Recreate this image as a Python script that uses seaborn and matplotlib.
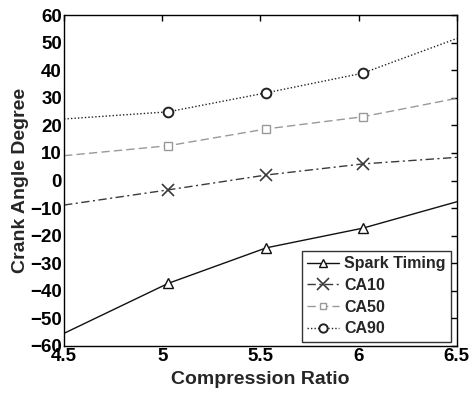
import matplotlib
matplotlib.use("Agg")
import matplotlib.pyplot as plt
import seaborn as sns
import pandas as pd
from matplotlib.lines import Line2D

# ---- data ----
curve_x = [4.5, 5.03, 5.53, 6.02, 6.5]
spark_curve = [-55.4, -37.3, -24.4, -17.3, -7.7]
ca10_curve = [-8.9, -3.4, 2.0, 6.0, 8.4]
ca50_curve = [9.0, 12.6, 18.7, 23.1, 29.8]
ca90_curve = [22.3, 24.9, 31.8, 38.9, 51.5]

marker_x = [5.03, 5.53, 6.02]
spark_pts = [-37.3, -24.4, -17.3]
ca10_pts = [-3.4, 2.0, 6.0]
ca50_pts = [12.6, 18.7, 23.1]
ca90_pts = [24.9, 31.8, 38.9]

series_names = ["Spark Timing", "CA10", "CA50", "CA90"]
x_ticks = [4.5, 5, 5.5, 6, 6.5]
x_tick_labels = ["4.5", "5", "5.5", "6", "6.5"]
y_ticks = list(range(-60, 61, 10))

sns.set_theme(style="white")
plt.rcParams["font.family"] = ["Liberation Sans", "DejaVu Sans"]
plt.rcParams["font.weight"] = "bold"

fig = plt.figure(figsize=(4.71, 3.93), dpi=100)
ax = fig.add_axes([0.136, 0.1196, 0.834, 0.8422])

styles = {
    "Spark Timing": dict(color="#111111", ls="-", marker="^", ms=7, mew=1.0),
    "CA10": dict(color="#3a3a3a", ls=(0, (6, 2.5, 1.5, 2.5)), marker="x", ms=9, mew=1.2),
    "CA50": dict(color="#999999", ls=(0, (6, 3)), marker="s", ms=6, mew=1.0),
    "CA90": dict(color="#222222", ls=(0, (1, 1.5)), marker="o", ms=7, mew=1.4),
}
curves = [spark_curve, ca10_curve, ca50_curve, ca90_curve]
points = [spark_pts, ca10_pts, ca50_pts, ca90_pts]

handles = []
for name, cy, py in zip(series_names, curves, points):
    st = styles[name]
    df_c = pd.DataFrame({"x": curve_x, "y": cy})
    sns.lineplot(data=df_c, x="x", y="y", ax=ax, color=st["color"],
                 linestyle=st["ls"], linewidth=1.0, legend=False, sort=True)
    df_p = pd.DataFrame({"x": marker_x, "y": py})
    ax.plot(df_p["x"], df_p["y"], linestyle="none", marker=st["marker"],
            markersize=st["ms"], markeredgewidth=st["mew"],
            markerfacecolor="white" if st["marker"] != "x" else st["color"],
            markeredgecolor=st["color"], zorder=3)
    handles.append(Line2D([0], [0], color=st["color"], linestyle=st["ls"], linewidth=1.0,
                          marker=st["marker"], markersize=st["ms"] - 1,
                          markeredgewidth=st["mew"],
                          markerfacecolor="white" if st["marker"] != "x" else st["color"],
                          markeredgecolor=st["color"]))

ax.set_xlim(4.5, 6.5)
ax.set_ylim(-60, 60)
ax.set_xticks(x_ticks)
ax.set_xticklabels(x_tick_labels)
ax.set_yticks(y_ticks)
ax.tick_params(direction="in", length=4, width=1, top=True, right=True,
               labelsize=13.5, pad=1.5, colors="black")
for lab in ax.get_xticklabels() + ax.get_yticklabels():
    lab.set_fontweight("bold")
for sp in ax.spines.values():
    sp.set_color("black")
    sp.set_linewidth(1.0)

ax.set_xlabel("Compression Ratio", fontsize=14, fontweight="bold", labelpad=4)
ax.set_ylabel("Crank Angle Degree", fontsize=14, fontweight="bold", labelpad=1)

leg = ax.legend(handles, series_names, loc="lower right", bbox_to_anchor=(0.985, 0.012),
                frameon=True, fancybox=False, fontsize=11.5, handlelength=2.0,
                handletextpad=0.3, borderpad=0.35, labelspacing=0.42, borderaxespad=0)
leg.get_frame().set_edgecolor("black")
leg.get_frame().set_linewidth(1.0)
for t in leg.get_texts():
    t.set_fontweight("bold")

fig.savefig("out.png", dpi=100)
